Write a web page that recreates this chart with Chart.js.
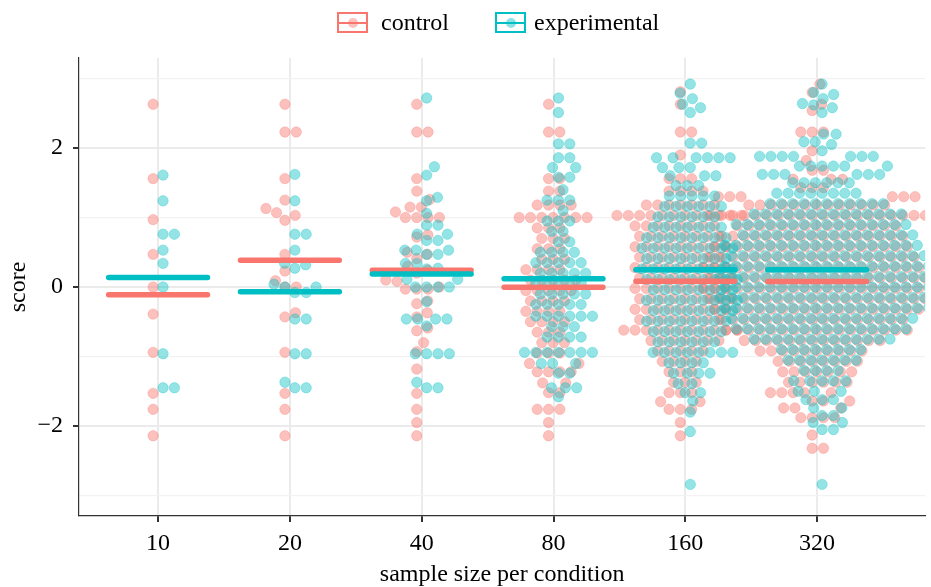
<!DOCTYPE html>
<html>
<head>
<meta charset="utf-8">
<title>score by sample size</title>
<script src="https://cdn.jsdelivr.net/npm/chart.js@4.4.1/dist/chart.umd.min.js"></script>
<style>
  body { margin: 0; background: #fff; }
  #wrap { position: relative; width: 931px; height: 587px; font-family: "Liberation Serif", "Times New Roman", serif; }
  #myChart { position: absolute; left: 0; top: 0; }
  .key { position: absolute; top: 12px; width: 31px; height: 21px; box-sizing: border-box; border: 2px solid; }
  .key .bar { position: absolute; left: 0; right: 0; top: 7.5px; height: 2px; }
  .key .dot { position: absolute; left: 8.5px; top: 3.5px; width: 10px; height: 10px; border-radius: 50%; }
  .lab { position: absolute; top: 8px; font-size: 24px; line-height: 28px; color: #000; }
</style>
</head>
<body>
<div id="wrap">
  <canvas id="myChart" width="931" height="587"></canvas>
  <div class="key" style="left:337px;border-color:#F8766D"><div class="bar" style="background:#F8766D"></div><div class="dot" style="background:rgba(248,118,109,0.45)"></div></div>
  <div class="lab" style="left:381px">control</div>
  <div class="key" style="left:495px;border-color:#00BFC4"><div class="bar" style="background:#00BFC4"></div><div class="dot" style="background:rgba(0,191,196,0.45)"></div></div>
  <div class="lab" style="left:534px">experimental</div>
</div>
<script>
const categories = ['10', '20', '40', '80', '160', '320'];

// small samples: every point
const control10 = [2.63, 1.56, 0.97, 0.47, 0, -0.39, -0.94, -1.53, -1.76, -2.14];
const experimental10 = [1.61, 1.24, 0.76, 0.76, 0.53, 0.34, 0, -0.96, -1.45, -1.45];
const control20 = [2.63, 2.23, 2.23, 1.56, 1.25, 1.13, 1.07, 1.03, 0.96, 0.47, 0.23, 0.09, 0, 0, -0.37, -0.43, -0.94, -1.53, -1.76, -2.14];
const experimental20 = [1.62, 1.24, 0.76, 0.76, 0.53, 0.34, 0.32, 0.27, 0.04, 0, 0, -0.08, -0.08, -0.46, -0.46, -0.96, -0.96, -1.37, -1.45, -1.45];
const control40 = [2.63, 2.23, 2.23, 1.56, 1.38, 1.26, 1.15, 1.15, 1.08, 1.0, 1.0, 1.0, 1.0, 0.75, 0.72, 0.5, 0.47, 0.41, 0.3, 0.24,
  0.2, 0.1, 0.08, 0, -0.03, -0.03, -0.03, -0.2, -0.24, -0.37, -0.43, -0.59, -0.63, -0.8, -0.93, -1.18, -1.53, -1.76, -1.95, -2.14];
const experimental40 = [2.72, 1.73, 1.61, 1.29, 1.24, 1.06, 0.89, 0.89, 0.76, 0.76, 0.67, 0.67, 0.53, 0.53, 0.53, 0.47, 0.47, 0.34, 0.34, 0.27,
  0.26, 0.11, 0.11, 0, 0, 0, 0, -0.21, -0.46, -0.46, -0.46, -0.46, -0.56, -0.96, -0.96, -0.96, -0.96, -1.37, -1.45, -1.45];

// bigger samples: score of each swarm row and how many points sit on it
const control80Levels = [2.63, 2.23, 1.56, 1.38, 1.18, 1.0, 0.85, 0.7, 0.55, 0.4, 0.25, 0.1, -0.05, -0.2, -0.35, -0.5, -0.65, -0.8, -0.95, -1.1, -1.22, -1.38, -1.52, -1.76, -1.95, -2.14];
const control80Counts = [1, 2, 2, 2, 4, 7, 3, 3, 3, 3, 4, 5, 5, 4, 4, 4, 3, 3, 3, 2, 4, 2, 2, 3, 1, 1];
const experimental80Levels = [2.72, 2.51, 2.06, 1.86, 1.72, 1.58, 1.4, 1.25, 1.1, 0.95, 0.8, 0.65, 0.5, 0.35, 0.2, 0.05, -0.1, -0.25, -0.42, -0.57, -0.72, -0.94, -1.1, -1.24, -1.45, -1.58];
const experimental80Counts = [1, 1, 2, 2, 2, 2, 1, 3, 1, 3, 2, 2, 4, 5, 5, 5, 5, 5, 6, 3, 4, 7, 3, 2, 3, 1];

const control160Levels = [2.81, 2.63, 2.23, 1.9, 1.56, 1.38, 1.18, 1.03, 0.88, 0.73, 0.58, 0.43, 0.28, 0.13, -0.02, -0.17, -0.32, -0.47, -0.62, -0.77, -0.92, -1.07, -1.22, -1.37, -1.52, -1.65, -1.76, -1.95, -2.14];
const control160Counts = [1, 1, 2, 1, 3, 4, 7, 12, 8, 8, 9, 8, 9, 9, 9, 9, 9, 8, 11, 7, 5, 4, 3, 3, 3, 2, 3, 1, 1];
const experimental160Levels = [2.92, 2.79, 2.71, 2.63, 2.58, 2.51, 2.07, 1.86, 1.72, 1.6, 1.46, 1.31, 1.16, 1.01, 0.86, 0.71, 0.56, 0.41, 0.26, 0.11,
  -0.04, -0.19, -0.34, -0.49, -0.64, -0.79, -0.94, -1.09, -1.24, -1.39, -1.52, -1.64, -1.8, -2.08, -2.84];
const experimental160Counts = [1, 1, 1, 1, 1, 1, 2, 6, 3, 3, 3, 5, 6, 6, 7, 8, 9, 8, 9, 9,
  8, 9, 8, 8, 7, 6, 8, 4, 4, 2, 2, 1, 1, 1, 1];

const control320Levels = [2.92, 2.8, 2.63, 2.54, 2.23, 1.96, 1.82, 1.68, 1.55, 1.43, 1.3, 1.18, 1.03, 0.88, 0.73, 0.58, 0.43, 0.28, 0.13,
  -0.02, -0.17, -0.32, -0.47, -0.62, -0.77, -0.92, -1.07, -1.22, -1.37, -1.52, -1.64, -1.74, -1.88, -2.13, -2.32];
const control320Counts = [1, 1, 1, 1, 3, 1, 1, 2, 3, 3, 6, 13, 20, 15, 17, 18, 19, 20, 20,
  20, 20, 19, 17, 17, 13, 10, 8, 7, 6, 5, 3, 3, 4, 1, 2];
const experimental320Levels = [2.92, 2.8, 2.77, 2.71, 2.64, 2.62, 2.58, 2.51, 2.2, 2.09, 2.05, 1.96, 1.88, 1.74, 1.62, 1.5, 1.35, 1.2, 1.05, 0.9, 0.75, 0.6, 0.45, 0.3, 0.15, 0.0,
  -0.15, -0.3, -0.45, -0.6, -0.75, -0.9, -1.05, -1.2, -1.35, -1.5, -1.62, -1.74, -1.85, -1.95, -2.05, -2.84];
const experimental320Counts = [1, 1, 1, 1, 1, 1, 1, 1, 2, 2, 1, 1, 7, 6, 6, 6, 8, 11, 14, 16, 16, 18, 18, 19, 19, 19,
  19, 19, 17, 16, 13, 8, 7, 4, 5, 3, 3, 2, 2, 2, 2, 1];

const X_MIN = 0.4, X_MAX = 6.82;
const Y_MIN = -3.295, Y_MAX = 3.295;
const DODGE_PX = 5;     // control left of the category, experimental right
const SWARM_PX = 11.4;  // spacing of points in the swarm
const RED = '#F8766D', TEAL = '#00BFC4';

function expand(levels, counts) {
  const out = [];
  levels.forEach((v, i) => { for (let k = 0; k < counts[i]; k++) out.push(v); });
  return out;
}

const controlGroups = [control10, control20, control40,
  expand(control80Levels, control80Counts),
  expand(control160Levels, control160Counts),
  expand(control320Levels, control320Counts)];
const experimentalGroups = [experimental10, experimental20, experimental40,
  expand(experimental80Levels, experimental80Counts),
  expand(experimental160Levels, experimental160Counts),
  expand(experimental320Levels, experimental320Counts)];

// beeswarm: place points bottom-up, each at the free spot closest to the centre
function swarm(ys, d) {
  const order = ys.map((v, i) => i).sort((a, b) => ys[a] - ys[b]);
  const placed = [];
  const offs = new Array(ys.length);
  for (const i of order) {
    const y = ys[i];
    const near = placed.filter(p => Math.abs(p.y - y) < d);
    const cands = [0];
    near.forEach(p => {
      const dx = Math.sqrt(d * d - (p.y - y) * (p.y - y));
      cands.push(p.x + dx, p.x - dx);
    });
    cands.sort((a, b) => Math.abs(a) - Math.abs(b) || b - a);
    let best = 0;
    for (const c of cands) {
      if (near.every(p => (p.x - c) * (p.x - c) + (p.y - y) * (p.y - y) >= d * d - 0.01)) { best = c; break; }
    }
    placed.push({ x: best, y: y });
    offs[i] = best;
  }
  return offs;
}

const serif = '"Liberation Serif", "Times New Roman", serif';
Chart.defaults.font.family = serif;
Chart.defaults.color = '#000';

const config = {
  type: 'scatter',
  data: {
    datasets: [
      { label: 'control', data: [], backgroundColor: 'rgba(248,118,109,0.45)', borderColor: 'rgba(248,118,109,0.5)',
        borderWidth: 0.6, pointRadius: 5.2, order: 4 },
      { label: 'experimental', data: [], backgroundColor: 'rgba(0,191,196,0.42)', borderColor: 'rgba(0,191,196,0.5)',
        borderWidth: 0.6, pointRadius: 5.2, order: 3 },
      { label: 'control mean', type: 'line', data: [], borderColor: RED, borderWidth: 5.5, pointRadius: 0,
        showLine: true, spanGaps: false, borderCapStyle: 'round', order: 2 },
      { label: 'experimental mean', type: 'line', data: [], borderColor: TEAL, borderWidth: 5.5, pointRadius: 0,
        showLine: true, spanGaps: false, borderCapStyle: 'round', order: 1 }
    ]
  },
  options: {
    responsive: false,
    animation: false,
    layout: { padding: { top: 58, left: 0, right: 0, bottom: 0 } },
    plugins: { legend: { display: false }, tooltip: { enabled: false } },
    scales: {
      x: {
        type: 'linear', min: X_MIN, max: X_MAX,
        afterFit: s => { s.height = 71; },
        afterBuildTicks: s => { s.ticks = categories.map((c, i) => ({ value: i + 1 })); },
        ticks: { callback: v => categories[v - 1], font: { size: 24 }, color: '#000', padding: 7, maxRotation: 0, autoSkip: false },
        grid: { color: '#EBEBEB', lineWidth: 2, tickColor: '#333', tickLength: 6 },
        border: { color: '#333', width: 1.2 },
        title: { display: true, text: 'sample size per condition', font: { size: 24 }, color: '#000', padding: { top: 0, bottom: -2 } }
      },
      y: {
        min: Y_MIN, max: Y_MAX,
        afterFit: s => { s.width = 79; },
        afterBuildTicks: s => { s.ticks = [-3, -2, -1, 0, 1, 2, 3].map(v => ({ value: v })); },
        ticks: {
          callback: v => (v % 2 === 0 ? (v < 0 ? '\u2212' + (-v) : String(v)) : ''),
          font: { size: 24 }, color: '#000', padding: 10
        },
        grid: {
          color: c => (c.tick && c.tick.value % 2 !== 0 ? '#F2F2F2' : '#EBEBEB'),
          lineWidth: c => (c.tick && c.tick.value % 2 !== 0 ? 1.2 : 2),
          tickColor: c => (c.tick && c.tick.value % 2 !== 0 ? 'rgba(0,0,0,0)' : '#333'),
          tickLength: 6
        },
        border: { color: '#333', width: 1.2 },
        title: { display: true, text: 'score', font: { size: 24 }, color: '#000', padding: { top: 4, bottom: 0 } }
      }
    }
  }
};

const myChart = new Chart(document.getElementById('myChart'), config);

/* swarm offsets are worked out in pixels, then turned back into x units */
const area = myChart.chartArea;
const pxPerX = (area.right - area.left) / (X_MAX - X_MIN);
const pxPerY = (area.bottom - area.top) / (Y_MAX - Y_MIN);

function swarmPoints(groups, sidePx) {
  const pts = [];
  groups.forEach((vals, i) => {
    const offs = swarm(vals.map(v => v * pxPerY), SWARM_PX);
    vals.forEach((v, k) => pts.push({ x: i + 1 + (sidePx + offs[k]) / pxPerX, y: v }));
  });
  return pts;
}

function meanLine(groups) {
  const pts = [];
  groups.forEach((vals, i) => {
    const m = vals.reduce((a, b) => a + b, 0) / vals.length;
    pts.push({ x: i + 1 - 0.375, y: m }, { x: i + 1 + 0.375, y: m }, { x: i + 1.5, y: null });
  });
  return pts;
}

myChart.data.datasets[0].data = swarmPoints(controlGroups, -DODGE_PX);
myChart.data.datasets[1].data = swarmPoints(experimentalGroups, DODGE_PX);
myChart.data.datasets[2].data = meanLine(controlGroups);
myChart.data.datasets[3].data = meanLine(experimentalGroups);
myChart.update();
</script>
</body>
</html>
